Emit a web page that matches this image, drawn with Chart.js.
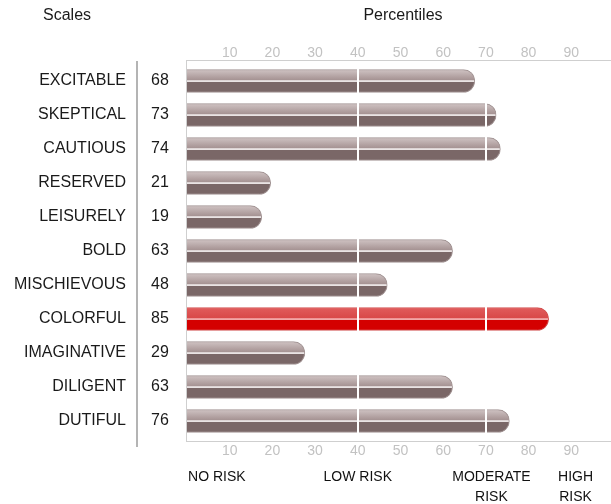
<!DOCTYPE html>
<html><head><meta charset="utf-8">
<script src="https://cdn.jsdelivr.net/npm/chart.js@4.4.0/dist/chart.umd.min.js"></script>
<style>html,body{margin:0;padding:0;overflow:hidden;background:#fff;width:611px;height:504px}canvas{display:block}</style>
</head><body>
<canvas id="c" width="614" height="504"></canvas>
<script>
const scaleNames = ['EXCITABLE','SKEPTICAL','CAUTIOUS','RESERVED','LEISURELY','BOLD','MISCHIEVOUS','COLORFUL','IMAGINATIVE','DILIGENT','DUTIFUL'];
const percentiles = [68,73,74,21,19,63,48,85,29,63,76];
const barValues = [67.4,72.4,73.4,19.6,17.5,62.2,46.9,84.7,27.6,62.2,75.5];
const highlighted = ['COLORFUL'];
const tickValues = [10,20,30,40,50,60,70,80,90];
const bandLines = [40,70];
const riskLabels = [['NO RISK'],['LOW RISK'],['MODERATE','RISK'],['HIGH','RISK']];
const riskAnchors = [7,40,71.3,91];

const FONT = '"Liberation Sans", Arial, sans-serif';
const BAR_H = 23;

function isRed(i){ return highlighted.includes(scaleNames[i]); }

function barFill(ctx){
  const chart = ctx.chart;
  const y = chart.scales && chart.scales.y;
  const red = isRed(ctx.dataIndex);
  const flat = red ? '#d40000' : '#7c6868';
  if (!y || ctx.dataIndex === undefined) return flat;
  const cy = y.getPixelForValue(ctx.dataIndex);
  if (!isFinite(cy)) return flat;
  const top = cy - BAR_H/2, bot = cy + BAR_H/2;
  const g = chart.ctx.createLinearGradient(0, top, 0, bot);
  const c = red
    ? ['#d24a4a','#e05a5a','#d84848','#f2a6a6','#d40000']
    : ['#a69494','#cbbebe','#a49191','#e9e3e3','#7a6767'];
  g.addColorStop(0, c[0]);
  g.addColorStop(0.05, c[1]);
  g.addColorStop(0.47, c[2]);
  g.addColorStop(0.48, c[3]);
  g.addColorStop(0.55, c[3]);
  g.addColorStop(0.56, c[4]);
  g.addColorStop(1, c[4]);
  return g;
}

const decor = {
  id: 'decor',
  afterDraw(chart){
    const {ctx, scales:{x, y}} = chart;
    ctx.save();
    ctx.strokeStyle = '#cfcfcf';
    ctx.lineWidth = 1;
    ctx.beginPath();
    ctx.moveTo(186.5, 60); ctx.lineTo(186.5, 442);
    ctx.moveTo(186, 60.5); ctx.lineTo(chart.width, 60.5);
    ctx.moveTo(186, 441.5); ctx.lineTo(chart.width, 441.5);
    ctx.stroke();
    ctx.strokeStyle = '#b4b4b4';
    ctx.lineWidth = 2;
    ctx.beginPath();
    ctx.moveTo(137, 61); ctx.lineTo(137, 447);
    ctx.stroke();
    ctx.fillStyle = '#1a1a1a';
    ctx.font = '16px ' + FONT;
    ctx.textBaseline = 'middle';
    ctx.textAlign = 'left';
    ctx.fillText('Scales', 43, 16);
    ctx.textAlign = 'center';
    ctx.fillText('Percentiles', 403, 16);
    scaleNames.forEach((name, i) => {
      const py = y.getPixelForValue(i);
      ctx.textAlign = 'right';
      ctx.fillText(name, 126, py);
      ctx.textAlign = 'center';
      ctx.fillText(String(percentiles[i]), 160, py);
    });
    ctx.font = '14px ' + FONT;
    ctx.fillStyle = '#111';
    riskLabels.forEach((lines, i) => {
      const px = x.getPixelForValue(riskAnchors[i]);
      lines.forEach((t, j) => ctx.fillText(t, px, 477 + j*20));
    });
    ctx.restore();
  }
};

const setTicks = s => { s.ticks = tickValues.map(v => ({value: v})); };

new Chart(document.getElementById('c'), {
  type: 'bar',
  data: {
    labels: scaleNames,
    datasets: [{
      data: barValues,
      backgroundColor: barFill,
      borderWidth: 1,
      borderColor: c => isRed(c.dataIndex) ? 'rgba(200,40,40,0.8)' : 'rgba(140,122,122,0.8)',
      borderRadius: 12,
      borderSkipped: 'start',
      barThickness: BAR_H
    }]
  },
  options: {
    indexAxis: 'y',
    responsive: false,
    animation: false,
    devicePixelRatio: 1,
    layout: {padding: {left: 187, right: 0, top: 0, bottom: 0}},
    plugins: {legend: {display: false}, tooltip: {enabled: false}},
    scales: {
      x: {
        position: 'top', min: 0, max: 100,
        afterBuildTicks: setTicks,
        afterFit: s => { s.height = 64; },
        grid: {
          z: 1, drawTicks: false, lineWidth: 2,
          color: c => bandLines.includes(c.tick && c.tick.value) ? '#ffffff' : 'rgba(0,0,0,0)'
        },
        border: {display: false},
        ticks: {color: '#c2c2c2', font: {size: 14, family: FONT}, padding: 2, maxRotation: 0, autoSkip: false}
      },
      x2: {
        axis: 'x', position: 'bottom', min: 0, max: 100,
        afterBuildTicks: setTicks,
        afterFit: s => { s.height = 66; },
        grid: {display: false, drawTicks: false},
        border: {display: false},
        ticks: {color: '#c2c2c2', font: {size: 14, family: FONT}, padding: 5, maxRotation: 0, autoSkip: false}
      },
      y: {display: false}
    }
  },
  plugins: [decor]
});
</script>
</body></html>
